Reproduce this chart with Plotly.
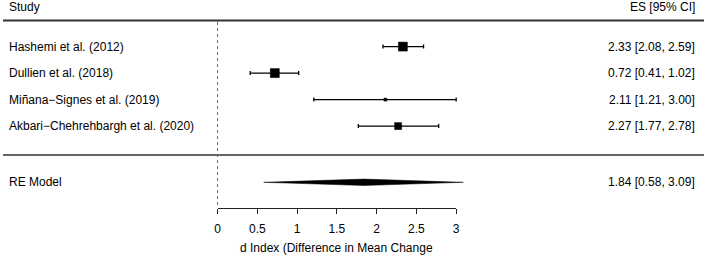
import plotly.graph_objects as go

studies = ["Hashemi et al. (2012)", "Dullien et al. (2018)",
           "Miñana\u2212Signes et al. (2019)", "Akbari\u2212Chehrehbargh et al. (2020)"]
es = [2.33, 0.72, 2.11, 2.27]
ci_lo = [2.08, 0.41, 1.21, 1.77]
ci_hi = [2.59, 1.02, 3.00, 2.78]
re_label = "RE Model"
re_es, re_lo, re_hi = 1.84, 0.58, 3.09
tick_vals = [0, 0.5, 1, 1.5, 2, 2.5, 3]
tick_text = ["0", "0.5", "1", "1.5", "2", "2.5", "3"]
x_title = "d Index (Difference in Mean Change"
header_left = "Study"
header_right = "ES [95% CI]"

W, H = 708, 258
X0_PX, UNIT_PX = 216.7, 80.33
xmin = -X0_PX / UNIT_PX
xmax = (W - X0_PX) / UNIT_PX
FONT = "Liberation Sans, Arial, sans-serif"
INK = "#000000"

row_y = [46.6 + 26.5 * i for i in range(len(studies))]
re_y = 182.3
marker_sizes = [9, 9, 3, 7]
LEFT_X = 4 / W
RIGHT_X = 701 / W

fig = go.Figure()

# study estimates with CIs
fig.add_trace(go.Scatter(
    x=es, y=row_y, mode="markers",
    marker=dict(symbol="square", size=marker_sizes, color="black",
                line=dict(width=0.5, color="black"), opacity=1),
    error_x=dict(type="data", symmetric=False,
                 array=[h - e for h, e in zip(ci_hi, es)],
                 arrayminus=[e - l for e, l in zip(es, ci_lo)],
                 color="black", thickness=1.3, width=2),
    hoverinfo="skip", showlegend=False, cliponaxis=False))

# RE diamond
half_h = 3.2
fig.add_trace(go.Scatter(
    x=[re_lo, re_es, re_hi, re_es, re_lo],
    y=[re_y, re_y - half_h, re_y, re_y + half_h, re_y],
    mode="lines", fill="toself", fillcolor="black",
    line=dict(color="black", width=0.5), hoverinfo="skip", showlegend=False))

# invisible trace to show the display axis
fig.add_trace(go.Scatter(x=[0, 3], y=[re_y, re_y], xaxis="x2", yaxis="y", mode="markers",
                         marker=dict(opacity=0), hoverinfo="skip", showlegend=False))

annotations = []
annotations.append(dict(x=LEFT_X, y=6.5, xref="paper", yref="y", text=header_left,
                        showarrow=False, xanchor="left", yanchor="middle"))
annotations.append(dict(x=RIGHT_X, y=6.5, xref="paper", yref="y", text=header_right,
                        showarrow=False, xanchor="right", yanchor="middle"))
for s, e, l, h, y in zip(studies, es, ci_lo, ci_hi, row_y):
    annotations.append(dict(x=LEFT_X, y=y, xref="paper", yref="y", text=s,
                            showarrow=False, xanchor="left", yanchor="middle"))
    annotations.append(dict(x=RIGHT_X, y=y, xref="paper", yref="y",
                            text=f"{e:.2f} [{l:.2f}, {h:.2f}]",
                            showarrow=False, xanchor="right", yanchor="middle"))
annotations.append(dict(x=LEFT_X, y=re_y, xref="paper", yref="y", text=re_label,
                        showarrow=False, xanchor="left", yanchor="middle"))
annotations.append(dict(x=RIGHT_X, y=re_y, xref="paper", yref="y",
                        text=f"{re_es:.2f} [{re_lo:.2f}, {re_hi:.2f}]",
                        showarrow=False, xanchor="right", yanchor="middle"))
annotations.append(dict(x=(X0_PX + 1.5 * UNIT_PX) / W, y=248, xref="paper", yref="y",
                        text=x_title, showarrow=False, xanchor="center", yanchor="middle"))

shapes = [
    dict(type="line", xref="paper", yref="y", x0=0, x1=1, y0=20.5, y1=20.5,
         line=dict(color="#333333", width=2)),
    dict(type="line", xref="paper", yref="y", x0=0, x1=1, y0=155, y1=155,
         line=dict(color="#333333", width=1.6)),
    dict(type="line", xref="x", yref="y", x0=0, x1=0, y0=22, y1=207,
         line=dict(color="#666666", width=1, dash="dot")),
]

fig.update_layout(
    width=W, height=H, margin=dict(l=0, r=0, t=0, b=0),
    paper_bgcolor="white", plot_bgcolor="rgba(0,0,0,0)",
    font=dict(family=FONT, size=12, color=INK),
    xaxis=dict(range=[xmin, xmax], domain=[0, 1], visible=False, fixedrange=True),
    xaxis2=dict(range=[0, 3], domain=[X0_PX / W, (X0_PX + 3 * UNIT_PX) / W],
                anchor="free", position=(H - 208) / H, side="bottom",
                showline=True, linecolor="#222222", linewidth=1.3,
                ticks="outside", ticklen=5, tickwidth=1.3, tickcolor="#222222",
                ticklabelstandoff=4,
                tickvals=tick_vals, ticktext=tick_text, showgrid=False, zeroline=False,
                tickfont=dict(family=FONT, size=12, color=INK), fixedrange=True),
    yaxis=dict(range=[H, 0], domain=[0, 1], visible=False, fixedrange=True),
    annotations=annotations, shapes=shapes, showlegend=False,
)

fig.write_html("out.html", config={"displayModeBar": False},
               post_script="document.body.style.margin='0px';")
